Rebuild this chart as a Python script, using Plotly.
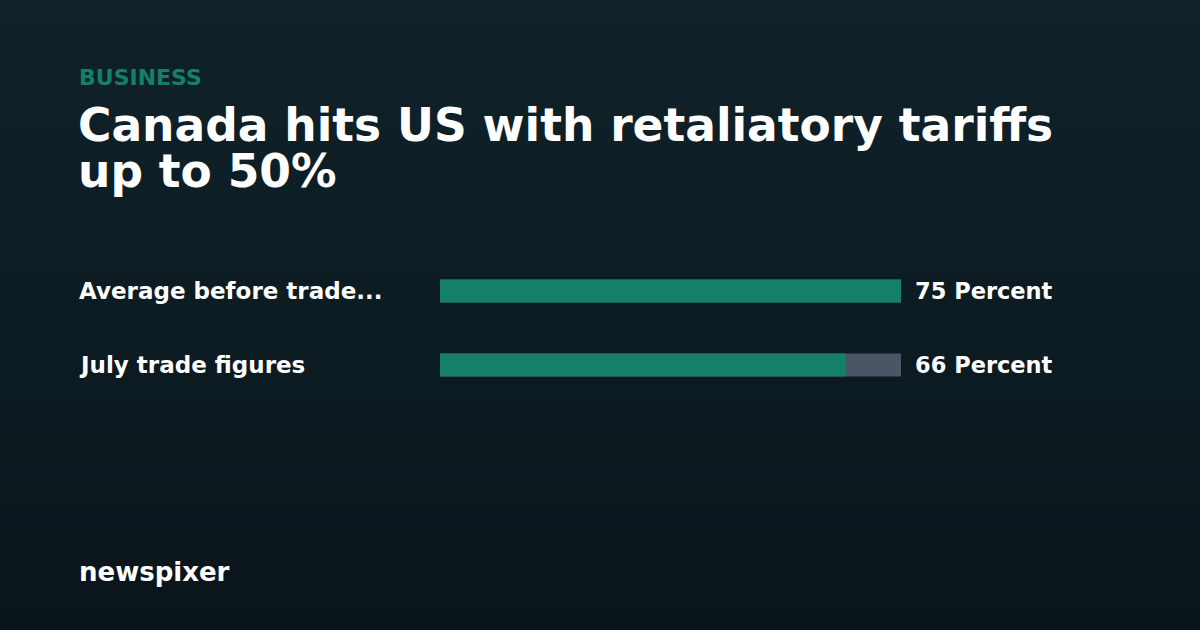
import plotly.graph_objects as go

categories = ["Average before trade...", "July trade figures"]
values = [75, 66]
value_labels = ["75 Percent", "66 Percent"]
track_max = 75

W, H = 1200, 630
BAR = "#14806a"
TRACK = "#4a5566"
FONT = "DejaVu Sans"
PAD = 3  # annotation box padding in px

fig = go.Figure()
fig.add_trace(go.Bar(y=categories, x=[track_max] * len(categories), orientation="h",
                     marker=dict(color=TRACK, line_width=0), width=0.31, hoverinfo="skip"))
fig.add_trace(go.Bar(y=categories, x=values, orientation="h",
                     marker=dict(color=BAR, line_width=0), width=0.31))

# background gradient in bands
top, bottom = (16, 34, 42), (10, 21, 27)
n = 30
for i in range(n):
    t = i / (n - 1)
    c = tuple(round(top[k] + (bottom[k] - top[k]) * t) for k in range(3))
    fig.add_shape(type="rect", xref="paper", yref="paper", x0=0, x1=1,
                  y0=1 - (i + 1) / n, y1=1 - i / n, fillcolor="rgb(%d,%d,%d)" % c,
                  line_width=0, layer="below")

for cat, lab in zip(categories, value_labels):
    fig.add_annotation(x=(80 - PAD) / W, xref="paper", y=cat, yref="y", text=cat, showarrow=False,
                       xanchor="left", font=dict(family=FONT, size=23, color="white", weight="bold"))
    fig.add_annotation(x=(916 - PAD) / W, xref="paper", y=cat, yref="y", text=lab, showarrow=False,
                       xanchor="left", font=dict(family=FONT, size=22.5, color="white", weight="bold"))

fig.add_annotation(x=(80 - PAD) / W, y=1 - 77 / H, xref="paper", yref="paper", text="BUSINESS",
                   showarrow=False, xanchor="left", yanchor="middle",
                   font=dict(family=FONT, size=22, color=BAR, weight="bold"))
for txt, yy in [("Canada hits US with retaliatory tariffs", 126), ("up to 50%", 172)]:
    fig.add_annotation(x=(80 - PAD) / W, y=1 - yy / H, xref="paper", yref="paper", text=txt,
                       showarrow=False, xanchor="left", yanchor="middle", align="left",
                       borderpad=0,
                       font=dict(family=FONT, size=45.5, color="white", weight="bold"))
fig.add_annotation(x=(80 - PAD) / W, y=1 - 572 / H, xref="paper", yref="paper", text="newspixer",
                   showarrow=False, xanchor="left", yanchor="middle",
                   font=dict(family=FONT, size=26, color="white", weight="bold"))

fig.update_layout(
    width=W, height=H, margin=dict(l=0, r=0, t=0, b=0),
    paper_bgcolor="#0e1d24", plot_bgcolor="rgba(0,0,0,0)",
    barmode="overlay", showlegend=False,
    xaxis=dict(domain=[440 / W, 901 / W], range=[0, track_max], visible=False, fixedrange=True),
    yaxis=dict(domain=[1 - 402 / H, 1 - 254 / H], autorange="reversed", visible=False,
               fixedrange=True),
)
fig.write_html("out.html", config={"displayModeBar": False},
               post_script="document.body.style.margin='0';document.body.style.overflow='hidden';")
